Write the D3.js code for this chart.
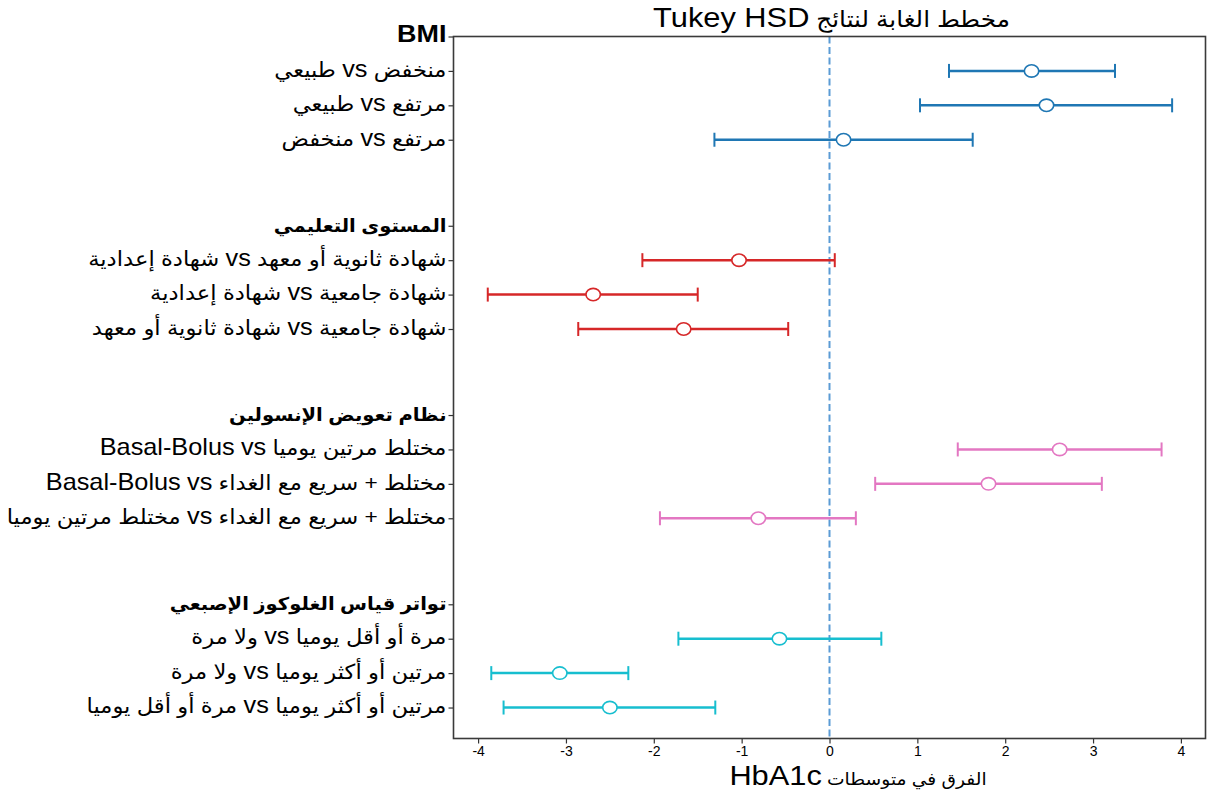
<!DOCTYPE html>
<html>
<head>
<meta charset="utf-8">
<script src="https://cdn.jsdelivr.net/npm/d3@7"></script>
<style>
  body { margin: 0; background: #ffffff; }
  text { font-family: "Liberation Sans", "DejaVu Sans", Arial, sans-serif; fill: #000; }
</style>
</head>
<body>
<svg id="chart" width="1213" height="792"></svg>
<script>
// Group headings (one per factor) and their colours
const groupTitles = ["BMI", "المستوى التعليمي", "نظام تعويض الإنسولين", "تواتر قياس الغلوكوز الإصبعي"];
const groupColors = ["#1f77b4", "#d62728", "#e377c2", "#17becf"];

// Pairwise comparisons, three per group, in group order
const comparisonLabels = [
  "منخفض vs طبيعي",
  "مرتفع vs طبيعي",
  "مرتفع vs منخفض",
  "شهادة ثانوية أو معهد vs شهادة إعدادية",
  "شهادة جامعية vs شهادة إعدادية",
  "شهادة جامعية vs شهادة ثانوية أو معهد",
  "مختلط مرتين يوميا vs Basal-Bolus",
  "مختلط + سريع مع الغداء vs Basal-Bolus",
  "مختلط + سريع مع الغداء vs مختلط مرتين يوميا",
  "مرة أو أقل يوميا vs ولا مرة",
  "مرتين أو أكثر يوميا vs ولا مرة",
  "مرتين أو أكثر يوميا vs مرة أو أقل يوميا"
];
const comparisonGroup = [0, 0, 0, 1, 1, 1, 2, 2, 2, 3, 3, 3];

// Mean difference in HbA1c with the Tukey HSD confidence interval
const meanDiff = [2.30, 2.47, 0.16, -1.03, -2.69, -1.66, 2.62, 1.81, -0.81, -0.57, -3.07, -2.50];
const ciLower  = [1.36, 1.03, -1.31, -2.13, -3.89, -2.86, 1.46, 0.52, -1.93, -1.72, -3.85, -3.71];
const ciUpper  = [3.25, 3.90, 1.63, 0.06, -1.50, -0.47, 3.78, 3.10, 0.30, 0.59, -2.29, -1.30];

const xTicks = [-4, -3, -2, -1, 0, 1, 2, 3, 4];

const chartTitle = "مخطط الغابة لنتائج Tukey HSD";
const xTitle = "الفرق في متوسطات HbA1c";

// Layout
const plot = { left: 453.5, right: 1205.5, top: 36.5, bottom: 738.5 };
const groupStep = 5.5;   // rows reserved for each group (heading + 3 rows + gap)
const textStretch = 1.1;

// Arabic-first strings are shown right-to-left; "vs" is isolated so the
// pair reads as "A vs B" from the right.
const RLI = "\u2067", PDI = "\u2069", RLM = "\u200F";
function bidi(s) {
  return RLI + s.replace(/ vs /g, RLM + " vs " + RLM) + PDI;
}

// Write a string into a <text> as runs, giving Latin and Arabic runs their own sizes
const latinRun = /([A-Za-z0-9][A-Za-z0-9\-]*(?: [A-Za-z0-9][A-Za-z0-9\-]*)*)/;
const controlOnly = /^[\u200E\u200F\u2066-\u2069]+$/;
function writeRuns(sel, str, latinSize, arabicSize) {
  sel.each(function (d) {
    const s = typeof str === "function" ? str(d) : str;
    const ls = typeof latinSize === "function" ? latinSize(d) : latinSize;
    const as = typeof arabicSize === "function" ? arabicSize(d) : arabicSize;
    const raw = s.split(latinRun).filter(p => p.length);
    // bidi marks ride along with a neighbouring visible run
    const parts = [];
    let pending = "";
    raw.forEach(p => {
      if (controlOnly.test(p)) {
        if (parts.length) parts[parts.length - 1] += p; else pending += p;
      } else {
        parts.push(pending + p);
        pending = "";
      }
    });
    const t = d3.select(this);
    parts.forEach(p => {
      const visible = p.replace(/[\u200E\u200F\u2066-\u2069]/g, "");
      t.append("tspan")
        .attr("font-size", /^[A-Za-z0-9]/.test(visible) ? ls : as)
        .text(p);
    });
  });
}

// Row positions: heading at k*groupStep, comparisons just below it
const rows = [];
groupTitles.forEach((t, k) => rows.push({ pos: k * groupStep, label: t, header: true, group: k }));
comparisonLabels.forEach((lab, i) => {
  const g = comparisonGroup[i];
  const within = comparisonGroup.slice(0, i).filter(d => d === g).length;
  rows.push({ pos: g * groupStep + within + 1, label: lab, header: false, group: g, i });
});

const svg = d3.select("#chart");

const x = d3.scaleLinear().domain([-4.28, 4.28]).range([plot.left, plot.right]);
const y = d3.scaleLinear().domain([0, 20.4]).range([plot.top, plot.bottom]);

// Reference line at zero difference
svg.append("line")
  .attr("x1", x(0)).attr("x2", x(0))
  .attr("y1", plot.top).attr("y2", plot.bottom)
  .attr("stroke", "#5b9bd5")
  .attr("stroke-width", 2)
  .attr("stroke-dasharray", "7,3.5");

// Confidence intervals
const ci = svg.append("g").selectAll("g")
  .data(rows.filter(r => !r.header))
  .join("g")
  .attr("stroke", r => groupColors[r.group]);

ci.append("line")
  .attr("x1", r => x(ciLower[r.i])).attr("x2", r => x(ciUpper[r.i]))
  .attr("y1", r => y(r.pos)).attr("y2", r => y(r.pos))
  .attr("stroke-width", 2.5);

["lower", "upper"].forEach(side => {
  ci.append("line")
    .attr("x1", r => x(side === "lower" ? ciLower[r.i] : ciUpper[r.i]))
    .attr("x2", r => x(side === "lower" ? ciLower[r.i] : ciUpper[r.i]))
    .attr("y1", r => y(r.pos) - 7).attr("y2", r => y(r.pos) + 7)
    .attr("stroke-width", 2);
});

ci.append("ellipse")
  .attr("cx", r => x(meanDiff[r.i]))
  .attr("cy", r => y(r.pos))
  .attr("rx", 7.2).attr("ry", 6.2)
  .attr("fill", "#ffffff")
  .attr("stroke-width", 1.6);

// Axes
const xAxis = svg.append("g")
  .attr("transform", `translate(0,${plot.bottom})`)
  .call(d3.axisBottom(x).tickValues(xTicks).tickSize(5).tickSizeOuter(0).tickFormat(d3.format("d")));
xAxis.select(".domain").remove();
xAxis.selectAll(".tick line").attr("stroke", "#333").attr("stroke-width", 1.2);
xAxis.selectAll(".tick text")
  .attr("font-size", 14)
  .attr("y", 8)
  .text(d => String(d).replace("\u2212", "-"));

const yAxis = svg.append("g")
  .attr("transform", `translate(${plot.left},0)`)
  .call(d3.axisLeft(y).tickValues(rows.map(r => r.pos)).tickSize(5).tickSizeOuter(0).tickFormat(() => ""));
yAxis.select(".domain").remove();
yAxis.selectAll(".tick line").attr("stroke", "#333").attr("stroke-width", 1.2);
yAxis.selectAll(".tick text").remove();

// Row labels
svg.append("g").selectAll("text")
  .data(rows)
  .join("text")
  .attr("transform", r => `translate(${plot.left - 7},${y(r.pos)}) scale(${textStretch},1)`)
  .attr("dy", "0.36em")
  .attr("text-anchor", "end")
  .attr("font-weight", r => r.header ? "bold" : "normal")
  .call(writeRuns, r => bidi(r.label), r => r.header ? 24.5 : 23, r => r.header ? 17.8 : 20.6);

// Frame
svg.append("rect")
  .attr("x", plot.left).attr("y", plot.top)
  .attr("width", plot.right - plot.left).attr("height", plot.bottom - plot.top)
  .attr("fill", "none").attr("stroke", "#3a3a3a").attr("stroke-width", 1.6);

// Titles
svg.append("text")
  .attr("transform", `translate(${(plot.left + plot.right) / 2 + 2},27) scale(${textStretch},1)`)
  .attr("text-anchor", "middle")
  .call(writeRuns, bidi(chartTitle), 28, 22.5);

svg.append("text")
  .attr("transform", `translate(858,785) scale(${textStretch},1)`)
  .attr("text-anchor", "middle")
  .call(writeRuns, bidi(xTitle), 28, 17);
</script>
</body>
</html>
